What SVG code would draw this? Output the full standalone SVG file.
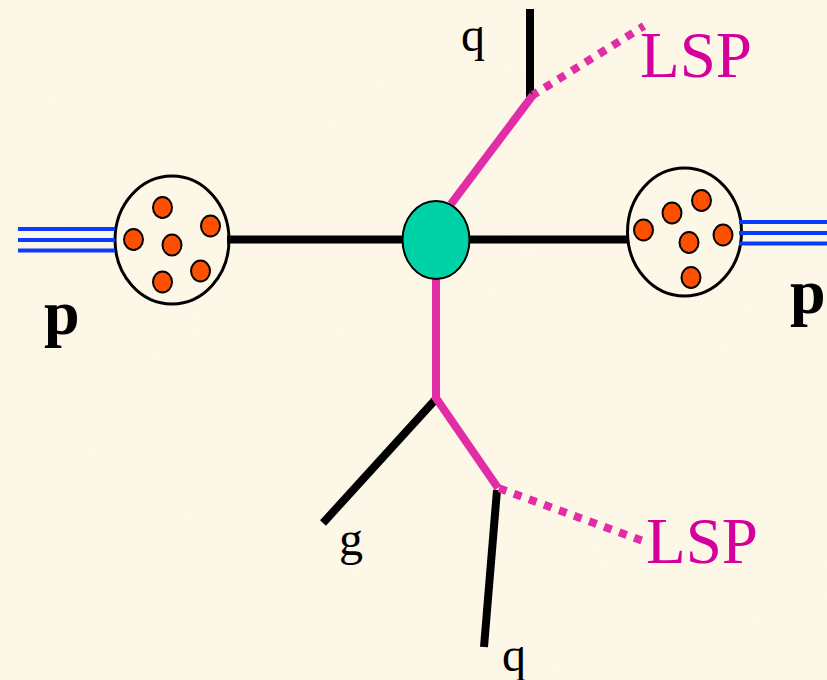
<svg xmlns="http://www.w3.org/2000/svg" width="827" height="680" viewBox="0 0 827 680">
  <style>
    text { font-family: "Liberation Serif", "Times New Roman", serif; }
    .lsp { font-size: 65px; fill: #d5009b; }
    .jet { font-size: 48px; fill: #000; }
    .beam { font-size: 64px; font-weight: bold; fill: #000; }
    .proton { fill: none; stroke: #000; stroke-width: 3; }
    .parton { fill: #ff5000; stroke: #000; stroke-width: 2; }
    .blue { stroke: #0a3cff; stroke-width: 4; fill: none; }
    .black { stroke: #000; stroke-width: 8; fill: none; }
    .pink { stroke: #e22ea6; stroke-width: 8; fill: none; }
    .dots { stroke: #e22ea6; stroke-width: 8; stroke-dasharray: 8 8; fill: none; }
  </style>
  <defs>
    <filter id="paper" x="0" y="0" width="100%" height="100%">
      <feTurbulence type="fractalNoise" baseFrequency="0.02" numOctaves="3" seed="4"/>
      <feColorMatrix values="0 0 0 0 0.93  0 0 0 0 0.88  0 0 0 0 0.72  0.5 0 0 0 -0.2"/>
    </filter>
  </defs>
  <rect width="827" height="680" fill="#fdf7e7"/>
  <rect width="827" height="680" filter="url(#paper)" opacity="0.35"/>

  <g id="proton-left">
    <ellipse class="proton" cx="172" cy="240" rx="57" ry="64"/>
    <ellipse class="parton" cx="162.500" cy="207.500" rx="9.500" ry="10.500"/>
    <ellipse class="parton" cx="210.500" cy="226" rx="9.500" ry="10.500"/>
    <ellipse class="parton" cx="133.500" cy="239.500" rx="9.500" ry="10.500"/>
    <ellipse class="parton" cx="172" cy="245" rx="9.500" ry="10.500"/>
    <ellipse class="parton" cx="200.500" cy="271" rx="9.500" ry="10.500"/>
    <ellipse class="parton" cx="162.500" cy="282" rx="9.500" ry="10.500"/>
  </g>

  <g id="proton-right">
    <ellipse class="proton" cx="684.500" cy="232" rx="57" ry="64"/>
    <ellipse class="parton" cx="701.500" cy="200.500" rx="9.500" ry="10.500"/>
    <ellipse class="parton" cx="672" cy="213" rx="9.500" ry="10.500"/>
    <ellipse class="parton" cx="643.500" cy="230" rx="9.500" ry="10.500"/>
    <ellipse class="parton" cx="723" cy="235" rx="9.500" ry="10.500"/>
    <ellipse class="parton" cx="689" cy="242.500" rx="9.500" ry="10.500"/>
    <ellipse class="parton" cx="691" cy="277.500" rx="9.500" ry="10.500"/>
  </g>

  <g id="connectors">
    <path class="blue" d="M18 229H115M18 240H115M18 250.500H115"/>
    <path class="blue" d="M739 222H827M739 233H827M739 243.500H827"/>
    <path class="black" d="M227 239.500H404M469 239.500H627"/>
    <path class="black" d="M530 9V97"/>
    <path class="pink" d="M451 204L533 95"/>
    <path class="dots" stroke-dashoffset="2.300" d="M533 95L644 26"/>
    <path class="black" d="M435 400L323 523"/>
    <path class="black" d="M497 490L484 647"/>
    <path class="pink" d="M436 277V398L498 488"/>
    <path class="dots" stroke-dashoffset="-1" d="M498 488L643 541"/>
  </g>

  <g id="vertex">
    <ellipse cx="436" cy="240" rx="33.500" ry="39" fill="#00d2a8" stroke="#000" stroke-width="2"/>
  </g>

  <g id="labels">
    <text class="beam" x="44" y="334">p</text>
    <text class="beam" x="790" y="313">p</text>
    <text class="lsp" x="640" y="77">LSP</text>
    <text class="lsp" x="646" y="563">LSP</text>
    <text class="jet" x="461" y="51">q</text>
    <text class="jet" x="339" y="555">g</text>
    <text class="jet" x="502" y="671">q</text>
  </g>
</svg>
